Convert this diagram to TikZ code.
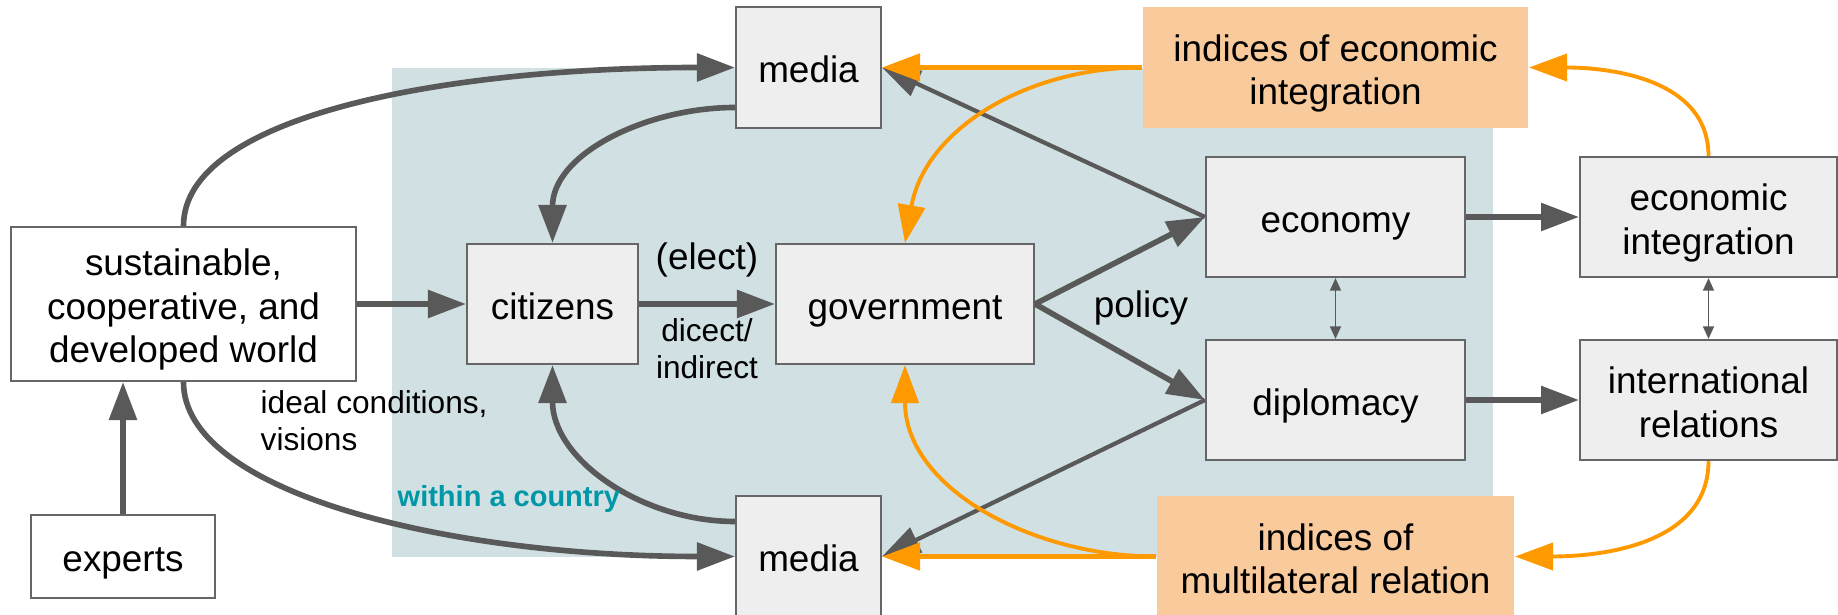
\documentclass[tikz,border=0pt]{standalone}
\usepackage{fontspec}
\setmainfont{Liberation Sans}
\usetikzlibrary{arrows.meta}
\definecolor{bgcyan}{HTML}{D0E0E3}
\definecolor{boxgray}{HTML}{EEEEEE}
\definecolor{linegray}{HTML}{595959}
\definecolor{framegray}{HTML}{666666}
\definecolor{gorange}{HTML}{FF9900}
\definecolor{lightorange}{HTML}{F9CB9C}
\definecolor{countryteal}{HTML}{0097A7}
\newcommand{\vs}{\rule[-0.22em]{0pt}{1.26em}}
\newcommand{\vt}{\rule{0pt}{1.05em}}
\begin{document}
\begin{tikzpicture}[x=1cm,y=1cm,
	>={Triangle[length=10.8pt,width=7.7pt]},
	box/.style={draw=framegray,line width=0.6pt,inner sep=0pt,align=center,font=\fontsize{10.5}{12.4}\selectfont,execute at begin node=\vs},
	gbox/.style={box,fill=boxgray},
	wbox/.style={box,fill=white},
	obox/.style={box,draw=none,fill=lightorange},
	garrow/.style={->,draw=linegray,line width=1.6pt},
	oarrow/.style={->,draw=gorange,line width=1.4pt},
	twoway/.style={{Triangle[length=3.6pt,width=3.1pt]}-{Triangle[length=3.6pt,width=3.1pt]},draw=linegray,line width=0.55pt},
	lbl/.style={font=\fontsize{9}{10.5}\selectfont}]
		\useasboundingbox (0,0) rectangle (18.38,6.15);
		\fill[bgcyan] (3.92,0.58) rectangle (14.93,5.47);
		% boxes
		\node[wbox,minimum width=3.45cm,minimum height=1.54cm] (world) at (1.835,3.11) {\vt sustainable,\\cooperative, and\\developed world};
		\node[wbox,minimum width=1.84cm,minimum height=0.83cm] (experts) at (1.23,0.585) {experts};
		\node[gbox,minimum width=1.45cm,minimum height=1.21cm] (mediaT) at (8.085,5.475) {media};
		\node[gbox,minimum width=1.45cm,minimum height=1.21cm] (mediaB) at (8.085,0.585) {media};
		\node[gbox,minimum width=1.71cm,minimum height=1.2cm] (citizens) at (5.525,3.11) {citizens};
		\node[gbox,minimum width=2.58cm,minimum height=1.2cm] (gov) at (9.05,3.11) {government};
		\node[gbox,minimum width=2.59cm,minimum height=1.2cm] (economy) at (13.355,3.98) {economy};
		\node[gbox,minimum width=2.59cm,minimum height=1.2cm] (diplomacy) at (13.355,2.15) {diplomacy};
		\node[gbox,minimum width=2.57cm,minimum height=1.2cm] (econint) at (17.085,3.98) {\vt economic\\integration};
		\node[gbox,minimum width=2.57cm,minimum height=1.2cm] (intrel) at (17.085,2.15) {\vt international\\relations};
		\node[obox,minimum width=3.85cm,minimum height=1.21cm] (idxecon) at (13.355,5.475) {\vt indices of economic\\integration};
		\node[obox,minimum width=3.57cm,minimum height=1.21cm] (idxmulti) at (13.355,0.585) {\vt indices of\\multilateral relation};
		% gray arrows
		\draw[garrow] (world.north) to[out=90,in=180,out distance=1.1cm,in distance=2.9cm] (mediaT.west);
		\draw[garrow] (world.south) to[out=-90,in=180,out distance=1.1cm,in distance=2.9cm] (mediaB.west);
		\draw[garrow] ([yshift=-4mm]mediaT.west) to[out=180,in=90] (citizens.north);
		\draw[garrow] ([yshift=3.5mm]mediaB.west) to[out=180,in=-90] (citizens.south);
		\draw[garrow] (experts.north) -- (experts.north |- world.south);
		\draw[garrow] (world.east) -- (citizens.west);
		\draw[garrow] (citizens.east) -- node[midway,above=3.5pt,font=\fontsize{10.5}{12.4}\selectfont] (elect) {(elect)} node[lbl,midway,below=0pt,align=center] (howelect) {dicect/\\indirect} (gov.west);
		\draw[garrow] (gov.east) -- (economy.west);
		\draw[garrow] (gov.east) -- (diplomacy.west);
		\draw[garrow,line width=1.2pt] (economy.west) -- (mediaT.east);
		\draw[garrow,line width=1.2pt] (diplomacy.west) -- (mediaB.east);
		\draw[garrow] (economy.east) -- (econint.west);
		\draw[garrow] (diplomacy.east) -- (intrel.west);
		\draw[twoway] (economy.south) -- (diplomacy.north);
		\draw[twoway] (econint.south) -- (intrel.north);
		% orange arrows
		\draw[oarrow] (idxecon.west) -- (mediaT.east);
		\draw[oarrow,line width=1.1pt] (idxecon.west) to[out=180,in=80] (gov.north);
		\draw[oarrow,line width=1.1pt] (econint.north) to[out=90,in=0] (idxecon.east);
		\draw[oarrow,line width=1.1pt] (intrel.south) to[out=-90,in=0] (idxmulti.east);
		\draw[oarrow] (idxmulti.west) -- (mediaB.east);
		\draw[oarrow,line width=1.1pt] (idxmulti.west) to[out=180,in=-90] (gov.south);
		% labels
		\node[font=\fontsize{10.5}{12.4}\selectfont] (policy) at (11.41,3.07) {policy};
		\node[lbl,align=left,anchor=north west,inner sep=0pt] (ideal) at (2.60,2.25) {ideal conditions,\\visions};
		\node[font=\fontsize{8.25}{10}\selectfont\bfseries,text=countryteal,anchor=base west,inner sep=0pt] (country) at (3.97,1.08) {within a country};
\end{tikzpicture}
\end{document}
